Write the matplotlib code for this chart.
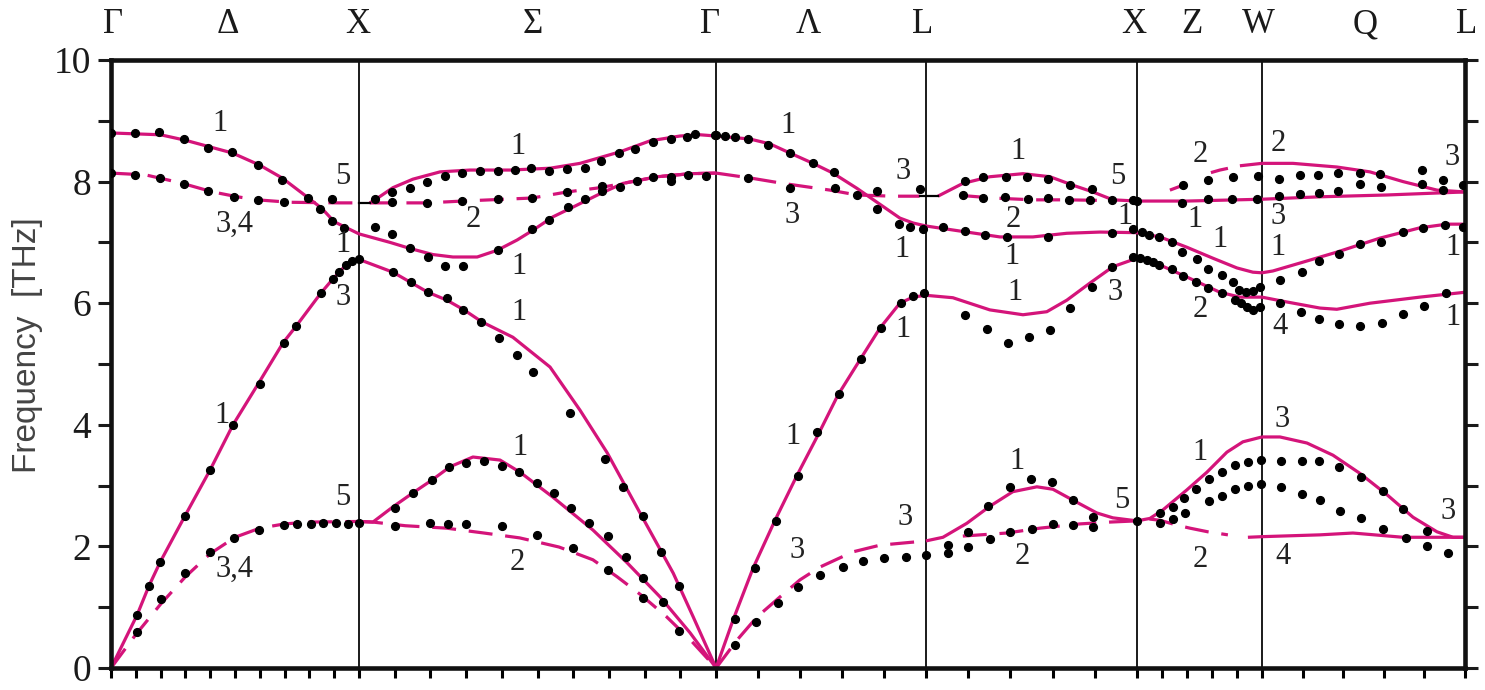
import numpy as np
import matplotlib.pyplot as plt

plt.rcParams['font.family'] = ['Liberation Serif', 'DejaVu Serif']

# high-symmetry points along the path (x in units of the Gamma-X length)
node_x = [0.0, 1.0, 2.44, 3.286, 4.137, 4.641, 5.46]
seg_ticks = [10, 10, 5, 5, 5, 5]
top_names = ['Γ', 'Δ', 'X', 'Σ', 'Γ', 'Λ', 'L', 'X', 'Z', 'W', 'Q', 'L']
top_x = [0.008, 0.472, 0.996, 1.70, 2.415, 2.81, 3.274, 4.125, 4.359, 4.625, 5.056, 5.468]

# ---- calculated branches: (t along segment, frequency THz) ----
# Gamma - X
d_lo = ([0, 0.2, 0.3, 0.49, 0.6, 0.69, 0.79, 0.85, 0.9, 1.0],
        [8.8, 8.77, 8.68, 8.47, 8.27, 8.06, 7.75, 7.56, 7.34, 7.14])
d_to = ([0, 0.14, 0.28, 0.41, 0.51, 0.59, 0.72, 0.92, 1.0],
        [8.14, 8.11, 7.98, 7.83, 7.75, 7.7, 7.66, 7.65, 7.65])
d_la = ([0, 0.105, 0.153, 0.198, 0.298, 0.4, 0.492, 0.593, 0.694, 0.746, 0.847, 0.895, 0.923, 0.952, 0.976, 1.0],
        [0, 0.87, 1.35, 1.74, 2.5, 3.26, 4.0, 4.67, 5.35, 5.62, 6.17, 6.4, 6.52, 6.65, 6.7, 6.72])
d_ta = ([0, 0.1, 0.2, 0.3, 0.4, 0.5, 0.6, 0.7, 0.8, 1.0],
        [0, 0.55, 1.05, 1.5, 1.88, 2.15, 2.3, 2.37, 2.4, 2.41])
# X - Gamma (Sigma)
s_up = ([0.03, 0.045, 0.095, 0.151, 0.227, 0.311, 0.423, 0.535, 0.619, 0.731, 0.815, 0.899, 0.955, 1.0],
        [7.65, 7.7, 7.9, 8.04, 8.16, 8.19, 8.19, 8.22, 8.3, 8.49, 8.67, 8.75, 8.77, 8.75])
s_to2 = ([0.03, 0.19, 0.29, 0.485, 0.583, 0.675, 0.739, 0.835, 0.927, 1.0],
         [7.65, 7.65, 7.68, 7.73, 7.83, 7.9, 7.97, 8.08, 8.13, 8.14])
s_mid = ([0, 0.087, 0.143, 0.207, 0.263, 0.331, 0.387, 0.443, 0.487, 0.543, 0.599, 0.675, 0.739, 0.835, 0.927, 1.0],
         [7.14, 7.0, 6.9, 6.8, 6.76, 6.76, 6.87, 7.04, 7.2, 7.42, 7.58, 7.8, 7.97, 8.08, 8.13, 8.14])
s_la = ([0, 0.095, 0.193, 0.246, 0.294, 0.345, 0.431, 0.535, 0.619, 0.695, 0.787, 0.88, 0.936, 1.0],
        [6.72, 6.51, 6.18, 6.05, 5.89, 5.69, 5.44, 4.95, 4.24, 3.54, 2.55, 1.56, 0.84, 0])
s_ta1 = ([0, 0.039, 0.095, 0.151, 0.204, 0.255, 0.319, 0.395, 0.451, 0.543, 0.655, 0.751, 0.843, 0.927, 1.0],
         [2.41, 2.4, 2.65, 2.88, 3.09, 3.31, 3.47, 3.42, 3.22, 2.81, 2.27, 1.73, 1.17, 0.58, 0])
s_ta2 = ([0, 0.039, 0.13, 0.245, 0.35, 0.45, 0.56, 0.655, 0.723, 0.79, 0.86, 0.93, 1.0],
         [2.41, 2.4, 2.34, 2.3, 2.22, 2.14, 1.99, 1.78, 1.5, 1.2, 0.85, 0.45, 0])
# Gamma - L (Lambda)
l_lo = ([0, 0.162, 0.257, 0.352, 0.462, 0.557, 0.671, 0.767, 0.876, 0.938, 1.0],
        [8.75, 8.7, 8.62, 8.47, 8.3, 8.14, 7.89, 7.66, 7.4, 7.32, 7.27])
l_to = ([0, 0.162, 0.319, 0.543, 0.671, 0.843, 0.97],
        [8.14, 8.06, 7.97, 7.86, 7.78, 7.76, 7.76])
l_la = ([0, 0.081, 0.176, 0.281, 0.386, 0.481, 0.581, 0.686, 0.781, 0.876, 0.938, 1.0],
        [0, 0.79, 1.64, 2.43, 3.17, 3.8, 4.49, 5.07, 5.59, 6.0, 6.1, 6.13])
l_ta = ([0, 0.1, 0.195, 0.305, 0.4, 0.495, 0.652, 0.781, 1.0],
        [0, 0.46, 0.84, 1.17, 1.45, 1.66, 1.91, 2.02, 2.09])
# L - X
lx_up = ([0.057, 0.175, 0.303, 0.46, 0.588, 0.697, 0.791, 0.886, 1.0],
         [7.76, 7.97, 8.08, 8.13, 8.08, 7.94, 7.83, 7.7, 7.68])
lx_2 = ([0.175, 0.318, 0.507, 0.668, 0.85],
        [7.77, 7.73, 7.7, 7.7, 7.69])
lx_mid = ([0, 0.194, 0.351, 0.507, 0.668, 0.825, 1.0],
          [7.27, 7.17, 7.09, 7.09, 7.15, 7.17, 7.16])
lx_low = ([0, 0.128, 0.303, 0.46, 0.573, 0.668, 0.777, 0.886, 1.0],
          [6.13, 6.09, 5.89, 5.81, 5.86, 6.05, 6.33, 6.6, 6.74])
lx_ac = ([0, 0.081, 0.194, 0.303, 0.412, 0.526, 0.602, 0.697, 0.81, 0.886, 1.0],
         [2.09, 2.15, 2.38, 2.66, 2.9, 2.98, 2.94, 2.76, 2.55, 2.47, 2.42])
lx_ac2 = ([0.175, 0.384, 0.54, 0.73, 0.872, 1.0],
          [2.17, 2.22, 2.3, 2.37, 2.4, 2.42])
# X - W (Z)
xw_flat = ([0, 0.4, 1.0], [7.68, 7.68, 7.71])
xw_top_d = ([0.264, 0.368, 0.528, 0.664, 0.824], [7.86, 7.94, 8.11, 8.19, 8.26])
xw_top = ([0.824, 1.0], [8.26, 8.3])
xw_mid1 = ([0, 0.184, 0.4, 0.608, 0.8, 0.928, 1.0], [7.16, 7.09, 6.92, 6.74, 6.58, 6.51, 6.5])
xw_mid2 = ([0, 0.128, 0.4, 0.664, 0.824, 1.0], [6.74, 6.68, 6.43, 6.18, 6.1, 6.1])
xw_ac = ([0, 0.104, 0.208, 0.4, 0.56, 0.72, 0.848, 1.0], [2.42, 2.46, 2.6, 2.93, 3.22, 3.55, 3.72, 3.8])
xw_ac2 = ([0.1, 0.184, 0.32, 0.424, 0.568, 0.728], [2.45, 2.43, 2.35, 2.3, 2.24, 2.19])
xw_4 = ([0.888, 1.0], [2.15, 2.16])
# W - L (Q)
wl_flat = ([0, 0.286, 0.616, 1.0], [7.71, 7.75, 7.78, 7.83])
wl_top = ([0, 0.153, 0.369, 0.532, 0.695, 0.862, 1.0], [8.3, 8.3, 8.24, 8.16, 8.0, 7.86, 7.83])
wl_mid1 = ([0, 0.054, 0.187, 0.369, 0.581, 0.778, 0.911, 1.0], [6.5, 6.53, 6.66, 6.84, 7.07, 7.24, 7.3, 7.3])
wl_mid2 = ([0, 0.123, 0.286, 0.369, 0.532, 0.778, 1.0], [6.1, 6.02, 5.92, 5.9, 6.0, 6.1, 6.18])
wl_ac = ([0, 0.089, 0.222, 0.35, 0.483, 0.616, 0.744, 0.862, 0.941, 1.0],
         [3.8, 3.8, 3.7, 3.5, 3.2, 2.85, 2.48, 2.24, 2.15, 2.15])
wl_4 = ([0, 0.286, 0.448, 0.695, 1.0], [2.16, 2.19, 2.22, 2.15, 2.15])

# ---- measured points (neutron data) ----
d_lo_pts = ([0, 0.097, 0.194, 0.294, 0.391, 0.488, 0.593, 0.69, 0.794, 0.843, 0.891, 0.94],
            [8.8, 8.8, 8.82, 8.7, 8.55, 8.49, 8.27, 8.03, 7.73, 7.55, 7.35, 7.24])
d_to_pts = ([0, 0.097, 0.198, 0.294, 0.391, 0.496, 0.593, 0.698, 0.891],
            [8.14, 8.11, 8.06, 7.96, 7.85, 7.75, 7.7, 7.66, 7.71])
d_la_pts = ([0.105, 0.153, 0.198, 0.298, 0.4, 0.492, 0.6, 0.698, 0.746, 0.847, 0.895, 0.919, 0.948, 0.972, 1.0],
            [0.87, 1.35, 1.74, 2.5, 3.26, 4.0, 4.67, 5.35, 5.62, 6.17, 6.4, 6.52, 6.63, 6.7, 6.72])
d_ta_pts = ([0.105, 0.202, 0.298, 0.4, 0.496, 0.597, 0.698, 0.75, 0.806, 0.855, 0.907, 0.956, 1.0],
            [0.6, 1.13, 1.56, 1.91, 2.14, 2.27, 2.35, 2.37, 2.37, 2.38, 2.38, 2.37, 2.38])
s_up_pts = ([0.045, 0.092, 0.143, 0.19, 0.241, 0.289, 0.339, 0.389, 0.437, 0.482, 0.532, 0.583, 0.633,
             0.678, 0.728, 0.773, 0.824, 0.874, 0.919, 0.941, 0.997],
            [7.71, 7.83, 7.9, 8.0, 8.09, 8.14, 8.17, 8.17, 8.19, 8.22, 8.17, 8.2, 8.22,
             8.34, 8.47, 8.54, 8.65, 8.7, 8.74, 8.78, 8.77])
s_to2_pts = ([0.092, 0.19, 0.289, 0.389, 0.485, 0.583, 0.681],
             [7.66, 7.65, 7.68, 7.71, 7.73, 7.83, 7.93])
s_mid_pts = ([0.045, 0.092, 0.143, 0.193, 0.241, 0.291, 0.389, 0.485, 0.532, 0.585, 0.633, 0.681, 0.731,
              0.779, 0.824, 0.874, 0.874, 0.922, 0.972],
             [7.25, 7.14, 6.9, 6.76, 6.61, 6.61, 6.87, 7.22, 7.37, 7.58, 7.71, 7.85, 7.91,
              8.01, 8.08, 8.08, 8.01, 8.11, 8.09])
s_la_pts = ([0.095, 0.146, 0.193, 0.246, 0.291, 0.342, 0.392, 0.443, 0.487, 0.591, 0.689, 0.739, 0.796, 0.846, 0.896],
            [6.51, 6.35, 6.18, 6.09, 5.89, 5.69, 5.43, 5.15, 4.87, 4.19, 3.44, 2.98, 2.5, 1.91, 1.35])
s_ta1_pts = ([0.1, 0.151, 0.204, 0.252, 0.3, 0.35, 0.401, 0.448, 0.499, 0.546, 0.594, 0.644, 0.697, 0.748, 0.796, 0.852],
             [2.63, 2.88, 3.09, 3.31, 3.37, 3.4, 3.32, 3.22, 3.04, 2.88, 2.63, 2.39, 2.17, 1.83, 1.48, 1.09])
s_ta2_pts = ([0.1, 0.199, 0.249, 0.3, 0.401, 0.499, 0.599, 0.697, 0.796, 0.896],
             [2.34, 2.39, 2.37, 2.37, 2.34, 2.19, 1.97, 1.61, 1.15, 0.61])
l_lo_pts = ([0, 0.043, 0.09, 0.152, 0.248, 0.352, 0.462, 0.562, 0.767, 0.871, 0.924, 0.986],
            [8.77, 8.75, 8.74, 8.7, 8.6, 8.47, 8.3, 8.16, 7.55, 7.3, 7.25, 7.22])
l_to_pts = ([0.152, 0.352, 0.567, 0.671, 0.767, 0.971], [8.06, 7.9, 7.9, 7.78, 7.84, 7.88])
l_la_pts = ([0.09, 0.186, 0.286, 0.39, 0.481, 0.586, 0.69, 0.786, 0.881, 0.938, 0.99],
            [0.8, 1.65, 2.42, 3.16, 3.88, 4.5, 5.08, 5.59, 6.0, 6.12, 6.17])
l_ta_pts = ([0.09, 0.19, 0.295, 0.39, 0.495, 0.605, 0.7, 0.8, 0.905, 1.0],
            [0.38, 0.76, 1.07, 1.33, 1.53, 1.66, 1.76, 1.81, 1.83, 1.86])
lx_up_pts = ([0.185, 0.27, 0.379, 0.479, 0.578, 0.682, 0.787, 0.882, 0.981],
             [8.01, 8.08, 8.08, 8.08, 8.04, 7.94, 7.88, 7.7, 7.7])
lx_2_pts = ([0.175, 0.27, 0.374, 0.483, 0.578, 0.678, 0.777], [7.78, 7.73, 7.75, 7.71, 7.73, 7.7, 7.7])
lx_mid_pts = ([0.081, 0.185, 0.28, 0.384, 0.578, 0.882, 0.981], [7.25, 7.19, 7.12, 7.09, 7.09, 7.15, 7.22])
lx_low_pts = ([0.185, 0.289, 0.389, 0.488, 0.588, 0.682, 0.787, 0.882, 0.981],
              [5.81, 5.58, 5.35, 5.44, 5.56, 5.92, 6.27, 6.6, 6.76])
lx_ac_pts = ([0.294, 0.398, 0.498, 0.597, 0.697, 0.791, 1.0], [2.66, 2.98, 3.11, 3.06, 2.76, 2.48, 2.42])
lx_ac2_pts = ([0.104, 0.104, 0.199, 0.199, 0.303, 0.398, 0.502, 0.602, 0.697, 0.791],
              [2.02, 1.89, 2.24, 1.99, 2.12, 2.24, 2.29, 2.37, 2.35, 2.32])
xw_flat_pts = ([0, 0.36, 0.568, 0.76, 0.96], [7.68, 7.65, 7.71, 7.71, 7.71])
xw_top_pts = ([0.368, 0.568, 0.768, 0.968], [7.94, 8.03, 8.08, 8.09])
xw_mid1_pts = ([0.04, 0.096, 0.176, 0.28, 0.36, 0.48, 0.568, 0.68, 0.768, 0.816, 0.872, 0.928, 0.984],
               [7.17, 7.12, 7.09, 7.01, 6.84, 6.73, 6.56, 6.46, 6.35, 6.22, 6.18, 6.2, 6.27])
xw_mid2_pts = ([0.024, 0.08, 0.128, 0.176, 0.28, 0.368, 0.472, 0.568, 0.68, 0.784, 0.832, 0.88, 0.928, 0.984],
               [6.74, 6.71, 6.68, 6.63, 6.56, 6.45, 6.35, 6.25, 6.17, 6.05, 6.0, 5.94, 5.89, 5.94])
xw_ac_pts = ([0.184, 0.288, 0.376, 0.472, 0.576, 0.68, 0.784, 0.888, 0.992],
             [2.55, 2.65, 2.8, 2.94, 3.11, 3.22, 3.34, 3.39, 3.42])
xw_ac2_pts = ([0.184, 0.288, 0.384, 0.576, 0.68, 0.784, 0.888, 0.992],
              [2.38, 2.45, 2.55, 2.75, 2.83, 2.94, 2.99, 3.03])
wl_flat_pts = ([0.084, 0.187, 0.281, 0.374], [7.76, 7.8, 7.81, 7.85])
wl_top_pts = ([0.084, 0.187, 0.276, 0.374, 0.483, 0.581, 0.788, 0.892, 0.99],
              [8.04, 8.11, 8.11, 8.14, 8.14, 8.12, 8.19, 8.03, 7.94])
wl_top2_pts = ([0.483, 0.586, 0.788, 0.892], [7.96, 7.91, 7.96, 7.86])
wl_mid1_pts = ([0.089, 0.197, 0.281, 0.379, 0.483, 0.586, 0.695, 0.793, 0.901, 0.99],
               [6.38, 6.51, 6.69, 6.81, 6.97, 7.01, 7.17, 7.24, 7.29, 7.25])
wl_mid2_pts = ([0.089, 0.192, 0.281, 0.379, 0.483, 0.591, 0.695, 0.798, 0.906],
               [6.0, 5.86, 5.74, 5.66, 5.63, 5.67, 5.82, 5.95, 6.17])
wl_ac_pts = ([0.094, 0.197, 0.281, 0.379, 0.488, 0.596, 0.695, 0.813],
             [3.4, 3.4, 3.4, 3.31, 3.14, 2.91, 2.61, 2.25])
wl_ac2_pts = ([0.094, 0.197, 0.286, 0.384, 0.488, 0.596, 0.709, 0.813, 0.916],
              [2.98, 2.86, 2.76, 2.58, 2.47, 2.29, 2.14, 2.0, 1.89])

# irreducible representation labels (x along path, frequency)
label_text = ['1', '3,4', '5', '1', '3', '1', '5', '3,4',
              '1', '2', '1', '1', '1', '2',
              '1', '3', '3', '1', '1', '1', '3', '3',
              '1', '2', '1', '1', '5', '1', '3', '1', '2', '5',
              '2', '1', '1', '2', '1', '2',
              '2', '3', '1', '4', '3', '4',
              '3', '1', '1', '3']
label_x = [0.44, 0.5, 0.935, 0.935, 0.935, 0.448, 0.935, 0.5,
           1.641, 1.46, 1.645, 1.645, 1.649, 1.637,
           2.73, 2.746, 3.194, 3.19, 3.194, 2.75, 2.766, 3.202,
           3.657, 3.637, 3.633, 3.645, 4.06, 4.089, 4.048, 3.653, 3.673, 4.077,
           4.391, 4.371, 4.472, 4.391, 4.391, 4.391,
           4.706, 4.706, 4.706, 4.714, 4.722, 4.726,
           5.407, 5.411, 5.411, 5.391]
label_f = [8.96, 7.3, 8.09, 6.96, 6.1, 4.16, 2.81, 1.63,
           8.57, 7.37, 6.6, 5.84, 3.63, 1.73,
           8.93, 7.45, 8.16, 6.88, 5.56, 3.8, 1.94, 2.48,
           8.49, 7.37, 6.76, 6.17, 8.08, 7.42, 6.18, 3.39, 1.83, 2.76,
           8.44, 7.37, 7.04, 5.89, 3.54, 1.78,
           8.63, 7.42, 6.92, 5.61, 4.08, 1.83,
           8.39, 6.92, 5.76, 2.57]

solid = [(0, d_lo), (0, d_la), (1, s_up), (1, s_mid), (1, s_la), (1, s_ta1),
         (2, l_lo), (2, l_la), (3, lx_up), (3, lx_mid), (3, lx_low), (3, lx_ac),
         (4, xw_flat), (4, xw_top), (4, xw_mid1), (4, xw_mid2), (4, xw_ac), (4, xw_4),
         (5, wl_flat), (5, wl_top), (5, wl_mid1), (5, wl_mid2), (5, wl_ac), (5, wl_4)]
dashed = [(0, d_to), (0, d_ta), (1, s_to2), (1, s_ta2), (2, l_to), (2, l_ta),
          (3, lx_2), (3, lx_ac2), (4, xw_ac2)]
points = [(0, d_lo_pts), (0, d_to_pts), (0, d_la_pts), (0, d_ta_pts),
          (1, s_up_pts), (1, s_to2_pts), (1, s_mid_pts), (1, s_la_pts), (1, s_ta1_pts), (1, s_ta2_pts),
          (2, l_lo_pts), (2, l_to_pts), (2, l_la_pts), (2, l_ta_pts),
          (3, lx_up_pts), (3, lx_2_pts), (3, lx_mid_pts), (3, lx_low_pts), (3, lx_ac_pts), (3, lx_ac2_pts),
          (4, xw_flat_pts), (4, xw_top_pts), (4, xw_mid1_pts), (4, xw_mid2_pts), (4, xw_ac_pts), (4, xw_ac2_pts),
          (5, wl_flat_pts), (5, wl_top_pts), (5, wl_top2_pts), (5, wl_mid1_pts), (5, wl_mid2_pts),
          (5, wl_ac_pts), (5, wl_ac2_pts)]


def xpos(seg, t):
    t = np.asarray(t, float)
    return node_x[seg] + t * (node_x[seg + 1] - node_x[seg])


PINK = '#d4147a'
DASH = (0, (7.5, 4.0))

fig = plt.figure(figsize=(14.85, 6.9), dpi=100)
ax = fig.add_axes([111 / 1485, 22 / 690, 1354 / 1485, 608 / 690])

for seg, (t, f) in solid:
    ax.plot(xpos(seg, t), f, color=PINK, lw=2.3, zorder=2, solid_capstyle='butt')
for seg, (t, f) in dashed:
    ax.plot(xpos(seg, t), f, color=PINK, lw=2.3, ls=DASH, zorder=2, dash_capstyle='butt')
ax.plot(xpos(4, xw_top_d[0]), xw_top_d[1], color=PINK, lw=2.3, ls=(0, (5.5, 8.5)), zorder=2)

# small black joins at X and L
ax.plot(xpos(1, [0, 0.03]), [7.65, 7.65], color='black', lw=1.6, zorder=2)
ax.plot(np.r_[xpos(2, [0.97]), xpos(3, [0.057])], [7.76, 7.76], color='black', lw=1.6, zorder=2)

for seg, (t, f) in points:
    ax.plot(xpos(seg, t), f, 'o', color='black', ms=5.6, ls='none', zorder=3)

for x in node_x[1:-1]:
    ax.axvline(x, color='#1a1a1a', lw=1.4, zorder=1)

for txt, x, f in zip(label_text, label_x, label_f):
    ax.text(x, f, txt, fontsize=22, ha='center', va='center', color='#222222', zorder=4)

for name, x in zip(top_names, top_x):
    ax.text(x, 1.058, name, transform=ax.get_xaxis_transform(), fontsize=25,
            ha='center', va='center', color='#1a1a1a')

ax.set_xlim(node_x[0], node_x[-1])
ax.set_ylim(0, 10)

xt = np.unique(np.round(np.concatenate([np.linspace(node_x[i], node_x[i + 1], n + 1)
                                        for i, n in enumerate(seg_ticks)]), 6))
ax.set_xticks(xt)
ax.set_xticklabels([])
ax.set_yticks(range(0, 11, 2))
ax.set_yticks(range(1, 10, 2), minor=True)
ax.tick_params(axis='y', which='both', direction='out', length=9.5, width=2.2,
               left=True, right=True, labelsize=27, pad=5, colors='#1a1a1a')
ax.tick_params(axis='x', which='both', direction='out', length=7.5, width=2.2,
               top=False, bottom=True)

for sp in ax.spines.values():
    sp.set_linewidth(3.3)
    sp.set_color('#111111')

ax.set_ylabel('Frequency  [THz]', fontsize=24, family=['Liberation Sans', 'DejaVu Sans'], color='#444444')
ax.yaxis.set_label_coords(-0.05, 0.531)

fig.savefig('out.png', dpi=100)
